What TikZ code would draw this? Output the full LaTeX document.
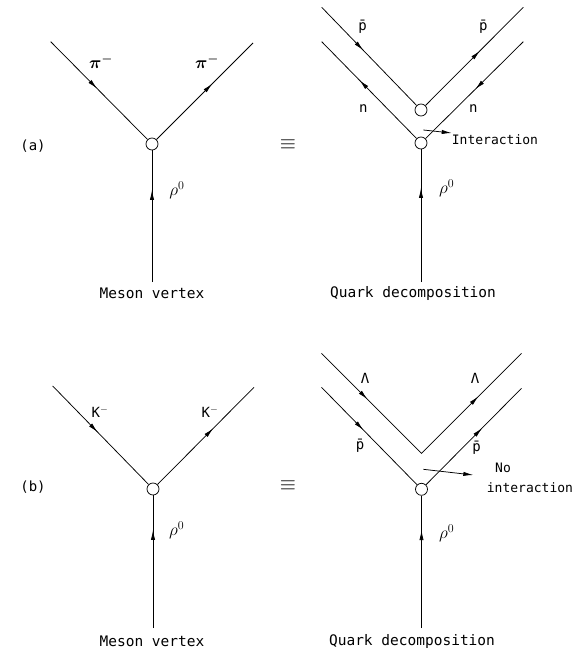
\documentclass[tikz,border=0pt]{standalone}
\usepackage{fontspec}
\newfontfamily\lett{DejaVu Sans Mono}
\usetikzlibrary{arrows.meta,decorations.markings}
\tikzset{
  >={Latex[length=10pt,width=4.2pt]},
  ln/.style={line width=0.75pt},
  vtx/.style={circle,draw,line width=0.75pt,fill=white,minimum size=12pt,inner sep=0pt},
  fwd/.style={postaction={decorate,decoration={markings,mark=at position #1 with {\arrow{>}}}}},
  bwd/.style={postaction={decorate,decoration={markings,mark=at position #1 with {\arrowreversed{>}}}}},
  fwdtwo/.style 2 args={postaction={decorate,decoration={markings,mark=at position #1 with {\arrow{>}},mark=at position #2 with {\arrow{>}}}}},
  lbl/.style={font=\lett\fontsize{14}{16}\selectfont,inner sep=0pt},
  mth/.style={font=\fontsize{18}{20}\selectfont\boldmath,inner sep=0pt},
  rho/.style={font=\fontsize{18}{20}\selectfont,inner sep=0pt},
  eqv/.style={font=\fontsize{20}{22}\selectfont,inner sep=0pt},
  ann/.style={font=\lett\fontsize{13}{15}\selectfont,inner sep=0pt},
  captxt/.style={font=\lett\fontsize{14.5}{16}\selectfont,inner sep=0pt},
}
\begin{document}
\begin{tikzpicture}[x=1pt,y=-1pt]
\useasboundingbox (0,0) rectangle (576,655);

% ---------- (a) meson vertex ----------
\node[vtx] (Va) at (152,144) {};
\coordinate (La) at (50.7,41.7);
\coordinate (Ra) at (253,43);
\coordinate (Ba) at (152,282);
\draw[ln,fwd=0.48] (La) -- (Va);
\draw[ln,fwd=0.58] (Va) -- (Ra);
\draw[ln,fwd=0.70] (Ba) -- (Va);
\node[mth] (pil) at (101,62) {$\pi^-$};
\node[mth] (pir) at (207,62) {$\pi^-$};
\node[rho] (rhoa) at (177,190) {$\rho^0$};
\node[captxt] (mva) at (152,293) {Meson vertex};
\node[lbl] (la) at (33,146) {(a)};
\node[eqv] (eqa) at (288,145) {$\equiv$};

% ---------- (a) quark decomposition ----------
\node[vtx] (Ua) at (421,110) {};
\node[vtx] (Qa) at (421,143) {};
\coordinate (OLa) at (321.7,7.3);
\coordinate (ORa) at (523.3,7.3);
\coordinate (ILa) at (321.7,41.7);
\coordinate (IRa) at (523.3,41.7);
\coordinate (QBa) at (421,282);
\draw[ln,fwd=0.44] (OLa) -- (Ua);
\draw[ln,fwd=0.56] (Ua) -- (ORa);
\draw[ln,bwd=0.40] (ILa) -- (Qa);
\draw[ln,bwd=0.51] (Qa) -- (IRa);
\draw[ln,fwd=0.71] (QBa) -- (Qa);
\node[lbl] (pbal) at (362.7,27) {p̄};
\node[lbl] (pbar) at (483.3,27) {p̄};
\node[lbl] (nl) at (363.3,109) {n};
\node[lbl] (nr) at (473.3,109) {n};
\node[rho] (rhoqa) at (446.7,188) {$\rho^0$};
\node[ann,anchor=west] (int) at (451.7,140) {Interaction};
\coordinate (ia) at (423.3,130);
\draw[ln,->] (ia) -- ([yshift=7pt]int.west);
\node[captxt] (qda) at (413,293) {Quark decomposition};

% ---------- (b) meson vertex ----------
\node[vtx] (Vb) at (153,489) {};
\coordinate (Lb) at (52.7,386);
\coordinate (Rb) at (254,387.3);
\coordinate (Bb) at (153,628);
\draw[ln,fwd=0.47] (Lb) -- (Vb);
\draw[ln,fwd=0.58] (Vb) -- (Rb);
\draw[ln,fwd=0.74] (Bb) -- (Vb);
\node[lbl] (kl) at (100,411.7) {K$^-$};
\node[lbl] (kr) at (210,411.7) {K$^-$};
\node[rho] (rhob) at (176.7,530) {$\rho^0$};
\node[captxt] (mvb) at (152,641.7) {Meson vertex};
\node[lbl] (lb) at (33,487) {(b)};
\node[eqv] (eqb) at (288,486) {$\equiv$};

% ---------- (b) quark decomposition ----------
\coordinate (Ab) at (421.5,453.3);
\node[vtx] (Qb) at (421.5,489.3) {};
\coordinate (OLb) at (321.5,353.3);
\coordinate (ORb) at (521.5,353.3);
\coordinate (ILb) at (321.5,387.3);
\coordinate (IRb) at (521.5,388.3);
\coordinate (QBb) at (421.5,628);
\draw[ln,fwdtwo={0.23}{0.785}] (OLb) -- (Ab) -- (ORb);
\draw[ln,fwd=0.44] (ILb) -- (Qb);
\draw[ln,fwd=0.59] (Qb) -- (IRb);
\draw[ln,fwd=0.74] (QBb) -- (Qb);
\node[lbl] (laml) at (365,378.3) {Λ};
\node[lbl] (lamr) at (475,378.3) {Λ};
\node[lbl] (pbbl) at (360,446) {p̄};
\node[lbl] (pbbr) at (476.7,448) {p̄};
\node[rho] (rhoqb) at (446.7,533) {$\rho^0$};
\node[ann,anchor=west] (no) at (495,468) {No};
\node[ann,anchor=west] (nint) at (486.7,488) {interaction};
\coordinate (nia) at (423.3,469.3);
\coordinate (nib) at (473.3,475);
\draw[ln,->] (nia) -- (nib);
\node[captxt] (qdb) at (412,641.7) {Quark decomposition};
\end{tikzpicture}
\end{document}
